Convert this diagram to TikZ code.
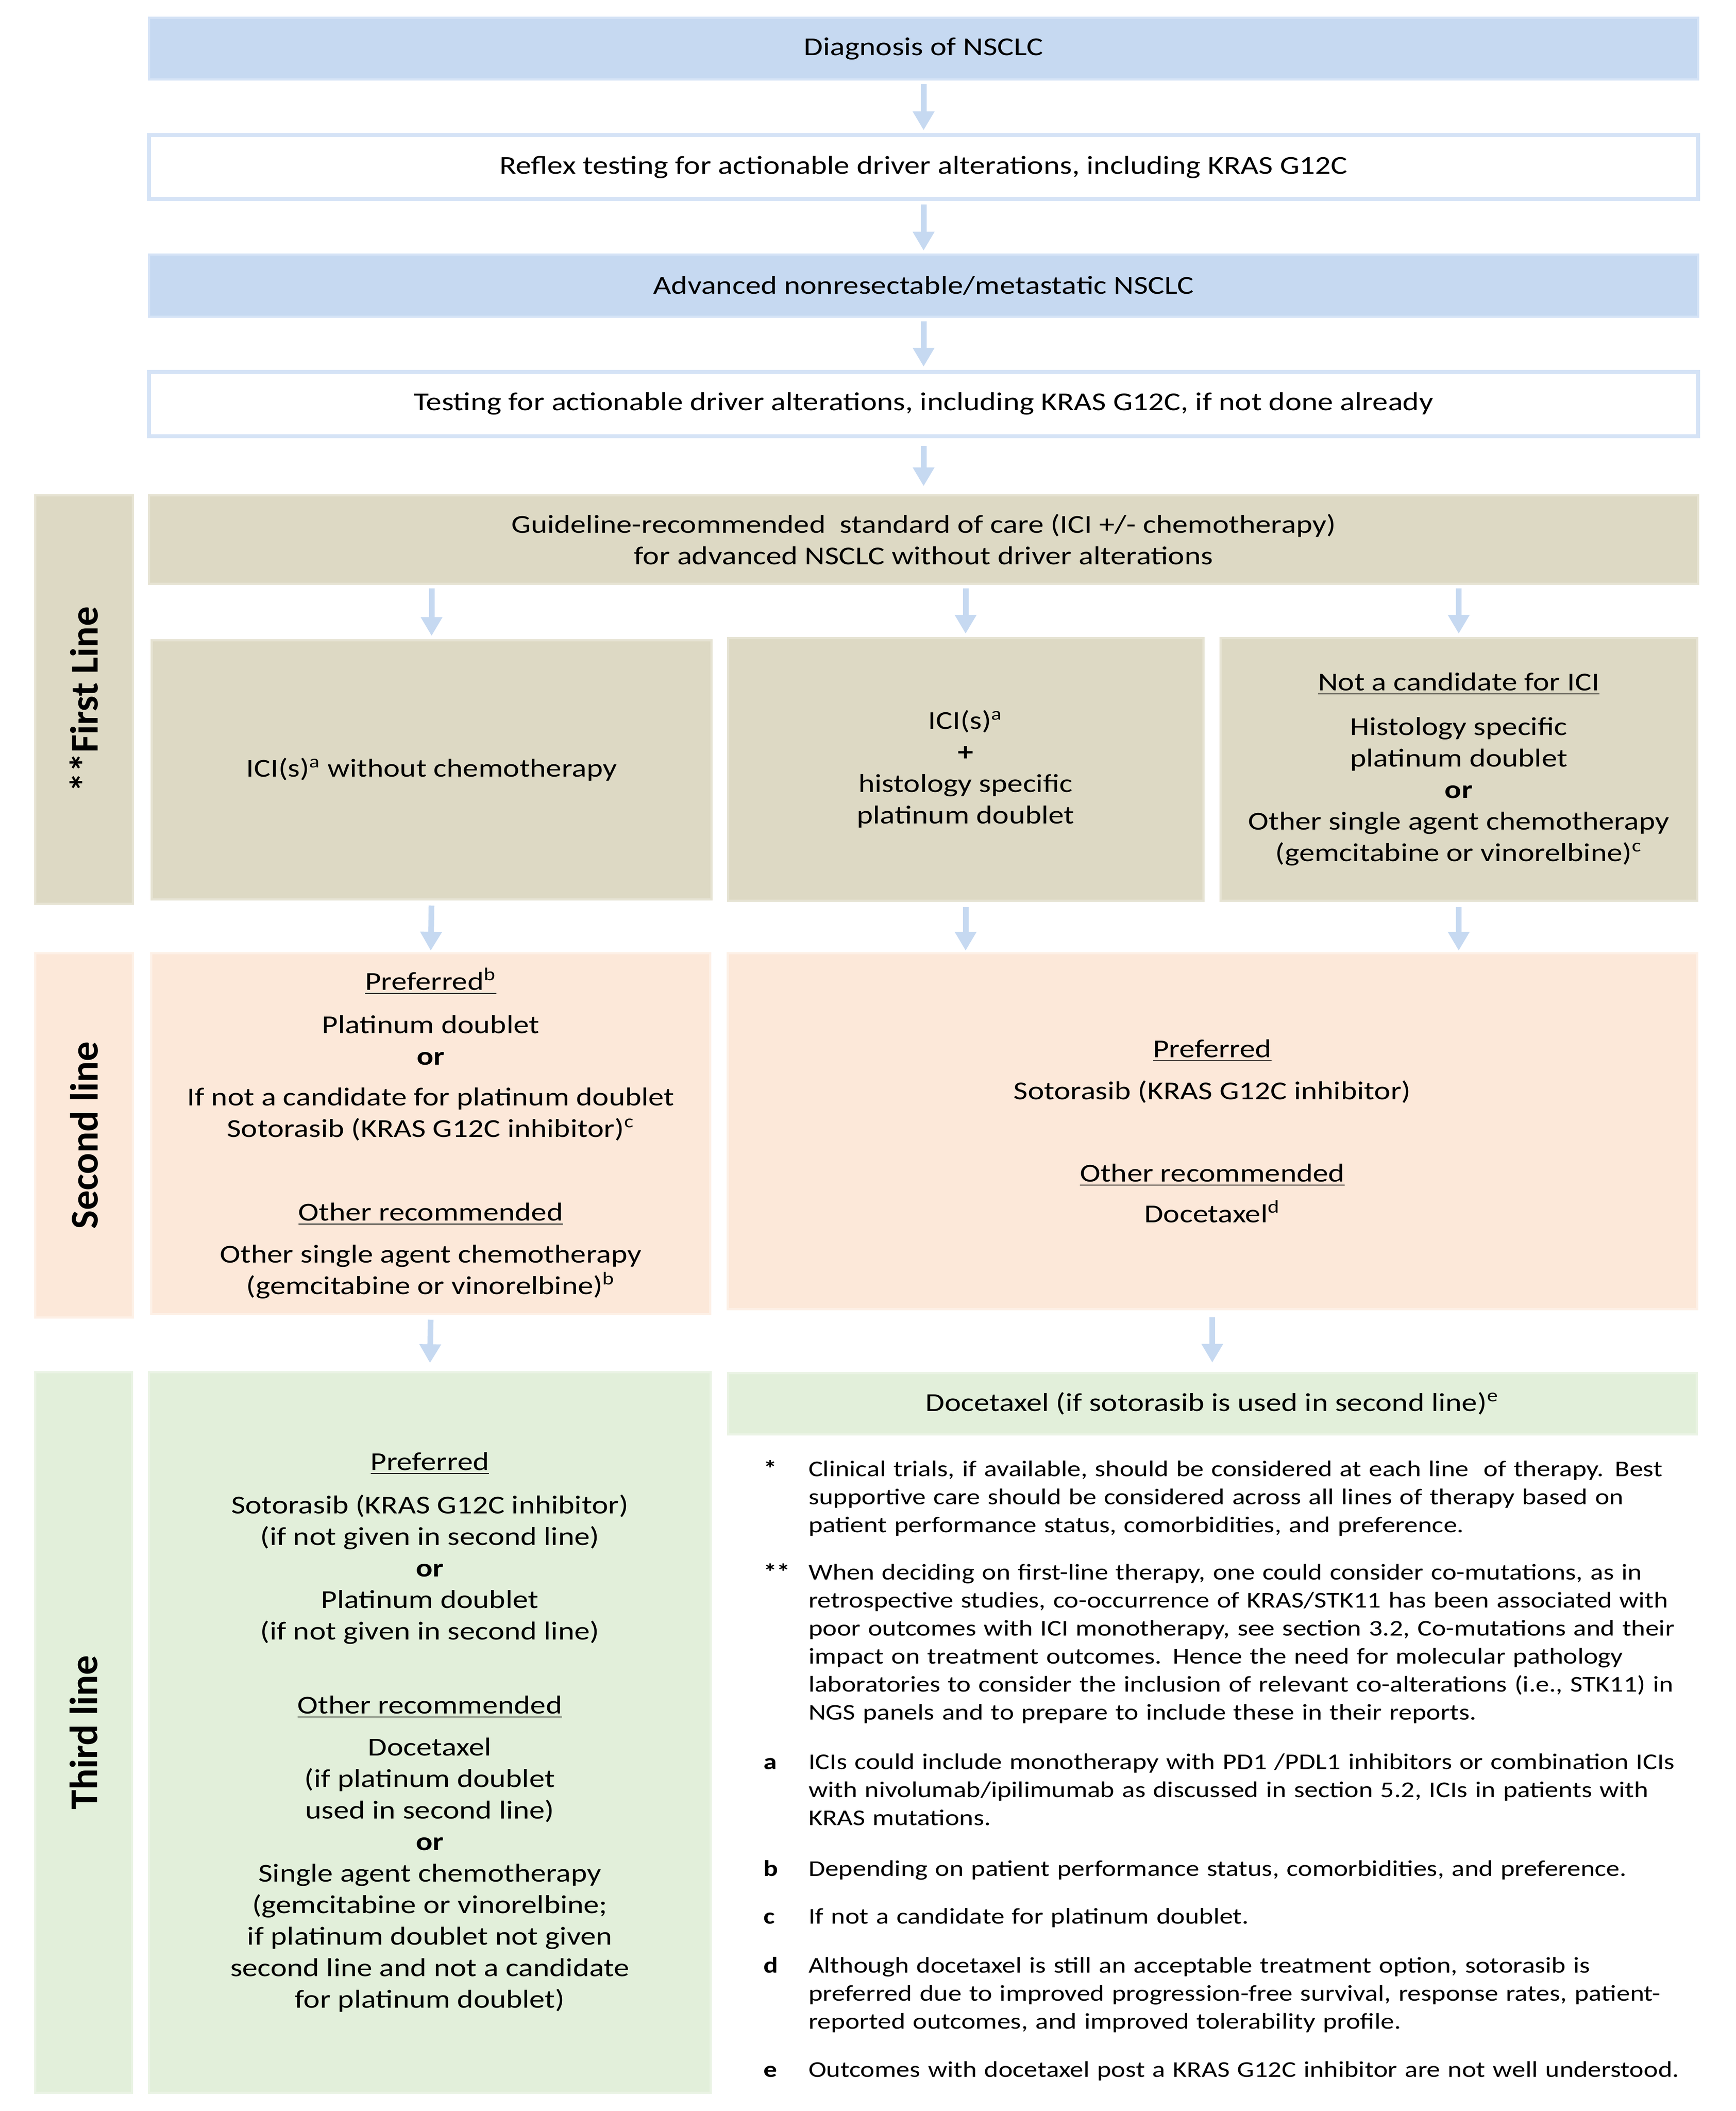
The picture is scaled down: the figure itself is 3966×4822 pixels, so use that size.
\documentclass[tikz,border=0pt]{standalone}
\usepackage{fontspec}
\setmainfont{Carlito}[FakeStretch=1.2]
\newfontfamily\lblfam{Carlito}
\usetikzlibrary{arrows.meta}
\definecolor{cBlue}{HTML}{C6D9F1}
\definecolor{cBlueEdge}{HTML}{D5E3F6}
\definecolor{cTan}{HTML}{DDD9C4}
\definecolor{cTanEdge}{HTML}{E6E3D3}
\definecolor{cPeach}{HTML}{FCE8D9}
\definecolor{cPeachEdge}{HTML}{FDF0E6}
\definecolor{cGreen}{HTML}{E2EFDA}
\definecolor{cGreenEdge}{HTML}{EAF3E4}
\definecolor{cArrow}{HTML}{C6D9F1}
\newcommand{\boxfont}{\fontsize{11.8pt}{14.4pt}\selectfont}
\newcommand{\fnfont}{\fontsize{10.3pt}{12.8pt}\selectfont}
\newcommand{\lblfont}{\lblfam\fontsize{18pt}{22pt}\selectfont\bfseries}
\tikzset{
  base box/.style={rectangle, inner sep=0pt, align=center, font=\boxfont, text=black},
  bluebox/.style={base box, fill=cBlue, draw=cBlueEdge, line width=1pt},
  whitebox/.style={base box, fill=white, draw=cBlueEdge, line width=1.8pt},
  tanbox/.style={base box, fill=cTan, draw=cTanEdge, line width=1pt},
  peachbox/.style={base box, fill=cPeach, draw=cPeachEdge, line width=1pt},
  greenbox/.style={base box, fill=cGreen, draw=cGreenEdge, line width=1pt},
  lbl/.style={font=\lblfont, rotate=90, inner sep=0pt},
  arr/.style={draw=cArrow, line width=2.6pt, shorten <=1.6pt, shorten >=1.4pt,
    -{Triangle[width=9.4pt,length=8.6pt]}},
  fnmark/.style={font=\fnfont\bfseries, anchor=base west, inner sep=0pt},
  fntext/.style={font=\fnfont, anchor=base west, inner sep=0pt, align=left, text width=470pt}
}
\begin{document}
\begin{tikzpicture}[x=0.2pt,y=-0.2pt]
\useasboundingbox (0,0) rectangle (3966,4822);

% top chain
\node[bluebox, minimum width=707.6pt, minimum height=28.2pt] (diag) at (2110,111.5) {Diagnosis of NSCLC};
\node[whitebox, minimum width=707.6pt, minimum height=29.2pt] (reflex) at (2110,382) {Reflex testing for actionable driver alterations, including KRAS G12C};
\node[bluebox, minimum width=707.6pt, minimum height=28.2pt] (adv) at (2110,652.5) {Advanced nonresectable/metastatic NSCLC};
\node[whitebox, minimum width=707.6pt, minimum height=29.4pt] (test) at (2110,922.5) {Testing for actionable driver alterations, including KRAS G12C, if not done already};

% first line
\node[tanbox, minimum width=44.4pt, minimum height=186.6pt] (lab1) at (192,1597.5) {};
\node[lbl] (lab1t) at (lab1.center) {**First Line};
\node[tanbox, minimum width=707.6pt, minimum height=40.4pt] (guide) at (2110,1232) {Guideline-recommended\ \ standard of care (ICI +/- chemotherapy)\\ for advanced NSCLC without driver alterations};
\node[tanbox, minimum width=255.6pt, minimum height=118.4pt] (f1) at (986,1758) {ICI(s)\textsuperscript{a} without chemotherapy};
\node[tanbox, minimum width=217.2pt, minimum height=120pt] (f2) at (2206,1757) {ICI(s)\textsuperscript{a}\\ \textbf{+}\\ histology specific\\ platinum doublet};
\node[tanbox, minimum width=217.8pt, minimum height=120pt] (f3) at (3332.5,1757) {\underline{Not a candidate for ICI}\\[6pt] Histology specific\\ platinum doublet\\ \textbf{or}\\ Other single agent chemotherapy\\ (gemcitabine or vinorelbine)\textsuperscript{c}};

% second line
\node[peachbox, minimum width=44.4pt, minimum height=166.4pt] (lab2) at (192,2593) {};
\node[lbl] (lab2t) at (lab2.center) {Second line};
\node[peachbox, minimum width=255.2pt, minimum height=164.8pt] (s1) at (984,2589) {\underline{Preferred\textsuperscript{b}}\\[5.4pt] Platinum doublet\\ \textbf{or}\\[4.2pt] If not a candidate for platinum doublet\\ Sotorasib (KRAS G12C inhibitor)\textsuperscript{c}\\[23.8pt] \underline{Other recommended}\\[4.8pt] Other single agent chemotherapy\\ (gemcitabine or vinorelbine)\textsuperscript{b}};
\node[peachbox, minimum width=443pt, minimum height=162.6pt] (s2) at (2769.5,2583.5) {\underline{Preferred}\\[4.8pt] Sotorasib (KRAS G12C inhibitor)\\[23.2pt] \underline{Other recommended}\\[4.2pt] Docetaxel\textsuperscript{d}};

% third line
\node[greenbox, minimum width=44pt, minimum height=329.2pt] (lab3) at (191,3957) {};
\node[lbl] (lab3t) at (lab3.center) {Third line};
\node[greenbox, minimum width=256.4pt, minimum height=329.2pt] (t1) at (982,3957) {\underline{Preferred}\\[5.4pt] Sotorasib (KRAS G12C inhibitor)\\ (if not given in second line)\\ \textbf{or}\\ Platinum doublet\\ (if not given in second line)\\[19.4pt] \underline{Other recommended}\\[4.8pt] Docetaxel\\ (if platinum doublet\\ used in second line)\\ \textbf{or}\\ Single agent chemotherapy\\ (gemcitabine or vinorelbine;\\ if platinum doublet not given\\ second line and not a candidate\\ for platinum doublet)};
\node[greenbox, minimum width=442.6pt, minimum height=28pt] (t2) at (2769.5,3206) {Docetaxel (if sotorasib is used in second line)\textsuperscript{e}};

% arrows
\draw[arr] (diag.south) -- (reflex.north);
\draw[arr] (reflex.south) -- (adv.north);
\draw[arr] (adv.south) -- (test.north);
\draw[arr, shorten <=3.6pt, shorten >=3.6pt] (test.south) -- (guide.north);
\draw[arr] (f1.north |- guide.south) -- (f1.north);
\draw[arr] (f2.north |- guide.south) -- (f2.north);
\draw[arr] (f3.north |- guide.south) -- (f3.north);
\draw[arr, shorten <=2.4pt, shorten >=0.6pt] (f1.south) -- (s1.north);
\draw[arr, shorten <=2.4pt, shorten >=0.6pt] (f2.south) -- (f2.south |- s2.north);
\draw[arr, shorten <=2.4pt, shorten >=0.6pt] (f3.south) -- (f3.south |- s2.north);
\draw[arr, shorten <=2.2pt, shorten >=3.6pt] (s1.south) -- (t1.north);
\draw[arr, shorten <=3.2pt, shorten >=4.2pt] (s2.south) -- (t2.north);

% footnotes
\node[fnmark] (m1) at (1743,3372) {*};
\node[fntext] (n1) at (1846,3372) {Clinical trials, if available, should be considered at each line\ \ of therapy. Best\\ supportive care should be considered across all lines of therapy based on\\ patient performance status, comorbidities, and preference.};
\node[fnmark] (m2) at (1743,3608) {**};
\node[fntext] (n2) at (1846,3608) {When deciding on first-line therapy, one could consider co-mutations, as in\\ retrospective studies, co-occurrence of KRAS/STK11 has been associated with\\ poor outcomes with ICI monotherapy, see section 3.2, Co-mutations and their\\ impact on treatment outcomes. Hence the need for molecular pathology\\ laboratories to consider the inclusion of relevant co-alterations (i.e., STK11) in\\ NGS panels and to prepare to include these in their reports.};
\node[fnmark] (ma) at (1743,4041) {a};
\node[fntext] (na) at (1846,4041) {ICIs could include monotherapy with PD1 /PDL1 inhibitors or combination ICIs\\ with nivolumab/ipilimumab as discussed in section 5.2, ICIs in patients with\\ KRAS mutations.};
\node[fnmark] (mb) at (1743,4285) {b};
\node[fntext] (nb) at (1846,4285) {Depending on patient performance status, comorbidities, and preference.};
\node[fnmark] (mc) at (1743,4394) {c};
\node[fntext] (nc) at (1846,4394) {If not a candidate for platinum doublet.};
\node[fnmark] (md) at (1743,4506) {d};
\node[fntext] (nd) at (1846,4506) {Although docetaxel is still an acceptable treatment option, sotorasib is\\ preferred due to improved progression-free survival, response rates, patient-\\ reported outcomes, and improved tolerability profile.};
\node[fnmark] (me) at (1743,4744) {e};
\node[fntext] (ne) at (1846,4744) {Outcomes with docetaxel post a KRAS G12C inhibitor are not well understood.};
\end{tikzpicture}
\end{document}
